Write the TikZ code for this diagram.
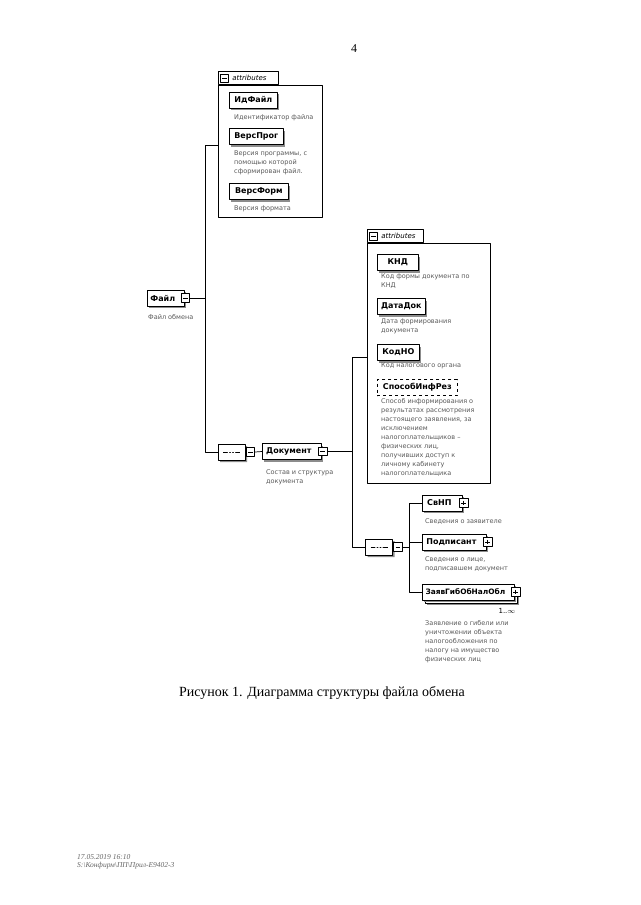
\documentclass[tikz,border=0pt]{standalone}
\usepackage{fontspec}
\setmainfont{Liberation Serif}
\setsansfont{DejaVu Sans}
\usetikzlibrary{shapes.misc,shadows}

\begin{document}
\begin{tikzpicture}[
  x=1pt,
  y=-1pt,
  line join=round,
  conn/.style={draw,line width=0.7pt},
  elem/.style={draw,fill=white,line width=0.7pt,anchor=west,minimum height=16pt,
    inner xsep=3pt,inner ysep=0pt,font=\sffamily\bfseries\fontsize{8}{9}\selectfont,
    drop shadow={shadow xshift=2pt,shadow yshift=-2pt,fill=black!45,opacity=1}},
  optelem/.style={draw,dashed,fill=white,line width=0.7pt,anchor=west,minimum height=16pt,
    inner xsep=3pt,inner ysep=0pt,font=\sffamily\bfseries\fontsize{8}{9}\selectfont},
  withicon/.style={execute at end node={\hspace{6pt}}},
  iconbox/.style={draw,fill=white,line width=0.6pt,minimum size=8.5pt,inner sep=0pt},
  minusbox/.style={iconbox,path picture={
    \draw[line width=0.6pt] ([xshift=1.8pt]path picture bounding box.west) -- ([xshift=-1.8pt]path picture bounding box.east);}},
  plusbox/.style={iconbox,path picture={
    \draw[line width=0.6pt] ([xshift=1.8pt]path picture bounding box.west) -- ([xshift=-1.8pt]path picture bounding box.east);
    \draw[line width=0.6pt] ([yshift=-1.8pt]path picture bounding box.north) -- ([yshift=1.8pt]path picture bounding box.south);}},
  seqbox/.style={chamfered rectangle,chamfered rectangle xsep=4pt,chamfered rectangle ysep=4pt,
    draw,fill=white,line width=0.7pt,minimum width=27pt,minimum height=16pt,inner sep=0pt,
    drop shadow={shadow xshift=2pt,shadow yshift=-2pt,fill=black!45,opacity=1},
    path picture={
      \draw[line width=0.6pt] ([xshift=5pt]path picture bounding box.west) -- ([xshift=-5pt]path picture bounding box.east);
      \fill ([xshift=-3pt]path picture bounding box.center) circle[radius=1pt];
      \fill (path picture bounding box.center) circle[radius=1pt];
      \fill ([xshift=3pt]path picture bounding box.center) circle[radius=1pt];}},
  attrbox/.style={draw,line width=0.6pt,anchor=north west,inner sep=0pt},
  attrtab/.style={draw,fill=white,line width=0.6pt,anchor=south west,minimum height=13pt,inner sep=0pt,
    align=left,font=\sffamily\itshape\fontsize{7}{8}\selectfont},
  desc/.style={anchor=north west,align=left,inner sep=0pt,text=black!65,
    font=\sffamily\fontsize{6.5}{9}\selectfont}
]
  \useasboundingbox[fill=white] (0,0) rectangle (640,905);

  % page number
  \node[font=\fontsize{12}{14}\selectfont] (pagenum) at (354,49) {4};

  % attributes of the root element
  \node[attrbox,minimum width=104pt,minimum height=132pt] (attr1) at (218,85) {};
  \node[attrtab,text width=60pt] (attr1tab) at (attr1.north west) {\hspace{14pt}attributes};
  \node[minusbox] (attr1icon) at ([xshift=6.5pt]attr1tab.west) {};

  \node[elem,minimum width=48pt] (idfayl) at (229,100) {ИдФайл};
  \node[desc] (idfayldesc) at (234,114) {Идентификатор файла};
  \node[elem,minimum width=54pt] (versprog) at (229,136.5) {ВерсПрог};
  \node[desc] (versprogdesc) at (234,151) {Версия программы, с\\помощью которой\\сформирован файл.};
  \node[elem,minimum width=59pt] (versform) at (229,191.5) {ВерсФорм};
  \node[desc] (versformdesc) at (234,206) {Версия формата};

  % root element
  \node[elem,withicon,minimum width=36pt] (fayl) at (147,298) {Файл};
  \node[minusbox] (faylicon) at ([xshift=1pt]fayl.east) {};
  \node[desc] (fayldesc) at (148,314) {Файл обмена};

  % sequence under the root
  \node[seqbox] (seq1) at (231.5,452) {};
  \node[minusbox] (seq1icon) at (250.5,452) {};
  \node[elem,withicon,minimum width=59pt] (dokument) at (262,451.5) {Документ};
  \node[minusbox] (dokicon) at ([xshift=1pt]dokument.east) {};
  \node[desc] (dokdesc) at (266,469) {Состав и структура\\документа};

  \coordinate (jtop) at (205,145);
  \coordinate (jfile) at (205,298);
  \coordinate (jseq) at (205,452);
  \draw[conn] (attr1.west |- jtop) -- (jtop) -- (jseq) -- (seq1.west);
  \draw[conn] (faylicon.east) -- (jfile);
  \draw[conn] (seq1icon.west) -- (seq1.east);
  \draw[conn] (seq1icon.east) -- (dokument.west);

  % attributes of Документ
  \node[attrbox,minimum width=123pt,minimum height=240pt] (attr2) at (367,243) {};
  \node[attrtab,text width=56pt] (attr2tab) at (attr2.north west) {\hspace{14pt}attributes};
  \node[minusbox] (attr2icon) at ([xshift=6.5pt]attr2tab.west) {};

  \node[elem,minimum width=41pt] (knd) at (377,262.5) {КНД};
  \node[desc] (knddesc) at (381,274) {Код формы документа по\\КНД};
  \node[elem,minimum width=48pt] (datadok) at (377,306.5) {ДатаДок};
  \node[desc] (datadokdesc) at (381,319) {Дата формирования\\документа};
  \node[elem,minimum width=42pt] (kodno) at (377,352.5) {КодНО};
  \node[desc] (kodnodesc) at (381,363) {Код налогового органа};
  \node[optelem,minimum width=80pt] (sposob) at (377,387.5) {СпособИнфРез};
  \node[desc] (sposobdesc) at (381,398) {Способ информирования о\\результатах рассмотрения\\настоящего заявления, за\\исключением\\налогоплательщиков –\\физических лиц,\\получивших доступ к\\личному кабинету\\налогоплательщика};

  % sequence under Документ
  \node[seqbox] (seq2) at (379,547) {};
  \node[minusbox] (seq2icon) at (398,547) {};

  \node[elem,withicon,minimum width=40pt] (svnp) at (422,503) {СвНП};
  \node[plusbox] (svnpicon) at ([xshift=1pt]svnp.east) {};
  \node[desc] (svnpdesc) at (425,518) {Сведения о заявителе};
  \node[elem,withicon,minimum width=64pt] (podpisant) at (422,542) {Подписант};
  \node[plusbox] (podpisanticon) at ([xshift=1pt]podpisant.east) {};
  \node[desc] (podpisantdesc) at (425,556) {Сведения о лице,\\подписавшем документ};
  \node[elem,minimum width=92pt] (zayavback) at (425,595) {};
  \node[elem,withicon,minimum width=92pt,font=\sffamily\bfseries\fontsize{7.4}{9}\selectfont] (zayav) at (422,592) {ЗаявГибОбНалОбл};
  \node[plusbox] (zayavicon) at ([xshift=1pt]zayav.east) {};
  \node[font=\sffamily\fontsize{7}{8}\selectfont,inner sep=0pt] (zayavmult) at (507,611) {1..$\infty$};
  \node[desc] (zayavdesc) at (425,620) {Заявление о гибели или\\уничтожении объекта\\налогообложения по\\налогу на имущество\\физических лиц};

  \coordinate (jattr2) at (352,357);
  \coordinate (jseq2) at (352,547);
  \draw[conn] (attr2.west |- jattr2) -- (jattr2) -- (jseq2) -- (seq2.west);
  \draw[conn] (dokicon.east) -- (dokicon.east -| jattr2);
  \draw[conn] (seq2icon.west) -- (seq2.east);

  \coordinate (jsvnp) at (409,503);
  \coordinate (jzayav) at (409,592);
  \draw[conn] (svnp.west) -- (jsvnp) -- (jzayav) -- (zayav.west);
  \draw[conn] (podpisant.west) -- (podpisant.west -| jsvnp);
  \draw[conn] (seq2icon.east) -- (seq2icon.east -| jsvnp);

  % caption
  \node[font=\fontsize{14}{16}\selectfont] (caption) at (322,693) {Рисунок 1. Диаграмма структуры файла обмена};

  % print stamp
  \node[anchor=west,inner sep=0pt,text=black!60,font=\itshape\fontsize{7.5}{8}\selectfont] (stampdate) at (77,857) {17.05.2019 16:10};
  \node[anchor=west,inner sep=0pt,text=black!60,font=\itshape\fontsize{7.5}{8}\selectfont] (stamppath) at (77,866) {S:\textbackslash Конфирм\textbackslash ПП\textbackslash Прил-Е9402-3};
\end{tikzpicture}
\end{document}
